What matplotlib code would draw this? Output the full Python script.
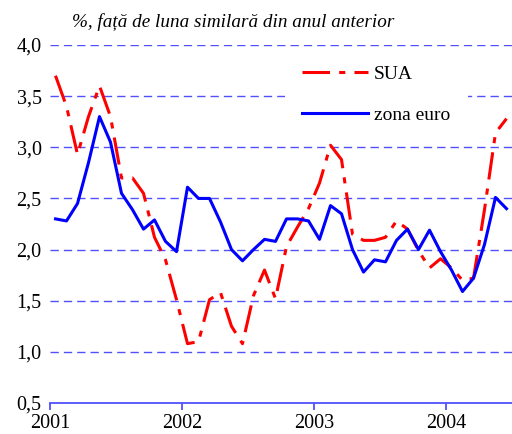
import numpy as np
import matplotlib.pyplot as plt
from matplotlib.ticker import FuncFormatter

# monthly values, Jan 2001 - Jun 2004
sua = [3.70, 3.40, 2.93, 3.30, 3.60, 3.30, 2.70, 2.70, 2.55, 2.12,
       1.90, 1.51, 1.08, 1.10, 1.51, 1.58, 1.25, 1.08, 1.55, 1.80,
       1.52, 2.03, 2.22, 2.40, 2.65, 3.02, 2.88, 2.15, 2.09, 2.09,
       2.12, 2.28, 2.20, 1.99, 1.82, 1.91, 1.82, 1.70, 1.72, 2.39,
       3.14, 3.28]
euro = [2.30, 2.28, 2.45, 2.85, 3.30, 3.05, 2.55, 2.39, 2.20, 2.29,
        2.08, 1.98, 2.61, 2.50, 2.50, 2.27, 2.00, 1.89, 2.00, 2.10,
        2.08, 2.30, 2.30, 2.28, 2.10, 2.43, 2.35, 2.00, 1.78, 1.90,
        1.88, 2.09, 2.20, 2.00, 2.19, 1.98, 1.80, 1.59, 1.72, 2.05,
        2.51, 2.40]
years = ['2001', '2002', '2003', '2004']

plt.rcParams['font.family'] = ['Liberation Serif', 'DejaVu Serif']

fig = plt.figure(figsize=(5.12, 4.34), dpi=100)
ax = fig.add_axes([50/512, 1 - 403/434, 1 - 50/512, (403 - 45)/434])

x = np.arange(len(sua)) + 0.5
grid_col = '#5050ff'
for v in [1.0, 1.5, 2.0, 2.5, 3.0, 3.5, 4.0]:
    ax.axhline(v, color=grid_col, lw=1.0, ls=(0, (6, 3.6)), zorder=1)

ax.plot(x, sua, color='#ff0000', lw=2.2, ls=(0, (9, 3, 2, 3)), label='SUA', zorder=3)
ax.plot(x, euro, color='#0000ff', lw=2.2, label='zona euro', zorder=3)

ax.set_xlim(0, 42)
ax.set_ylim(0.5, 4.0)
ax.set_xticks([0, 12, 24, 36])
ax.set_xticklabels(years)
ax.set_yticks([0.5, 1.0, 1.5, 2.0, 2.5, 3.0, 3.5, 4.0])
ax.yaxis.set_major_formatter(FuncFormatter(lambda v, p: f'{v:.1f}'.replace('.', ',')))

for s in ['top', 'right', 'left']:
    ax.spines[s].set_visible(False)
ax.spines['bottom'].set_color(grid_col)
ax.spines['bottom'].set_linewidth(1.3)
ax.tick_params(axis='x', colors=grid_col, direction='out', length=5, width=1.3,
               labelcolor='black', labelsize=14.5, pad=3)
ax.tick_params(axis='y', length=0, labelsize=14.5, pad=6)

leg = ax.legend(loc='upper left', bbox_to_anchor=((275 - 50)/462, 1.02),
                fontsize=14, handlelength=3.4, handletextpad=0.3,
                labelspacing=1.2, borderpad=0.9, frameon=True)
leg.get_frame().set_edgecolor('none')
leg.get_frame().set_facecolor('white')
leg.get_frame().set_alpha(1)
leg.set_zorder(2)

fig.text(72/512, 1 - 22/434, '%, față de luna similară din anul anterior',
         fontsize=13.8, style='italic', va='center', ha='left')

fig.savefig('out.png', dpi=100)
